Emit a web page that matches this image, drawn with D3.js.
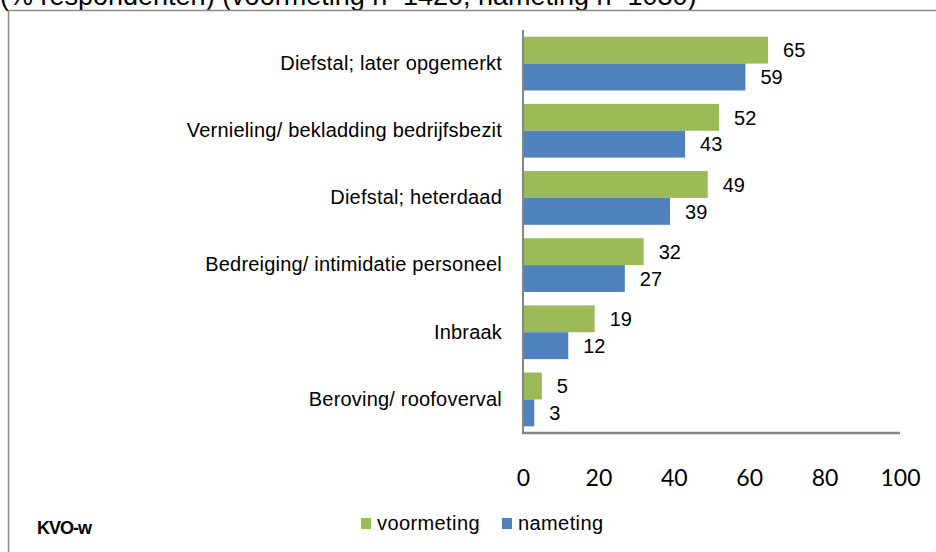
<!DOCTYPE html>
<html>
<head>
<meta charset="utf-8">
<script src="https://cdn.jsdelivr.net/npm/d3@7"></script>
<style>
  body { margin: 0; background: #fff; }
  svg { display: block; }
</style>
</head>
<body>
<div id="chart"></div>
<script>
"use strict";

// data
var categories = [
  "Diefstal; later opgemerkt",
  "Vernieling/ bekladding bedrijfsbezit",
  "Diefstal; heterdaad",
  "Bedreiging/ intimidatie  personeel",
  "Inbraak",
  "Beroving/ roofoverval"
];
var voormeting = [65, 52, 49, 32, 19, 5];
var nameting = [59, 43, 39, 27, 12, 3];
var seriesNames = ["voormeting", "nameting"];
var seriesColors = ["#9bbb59", "#4f81bd"];
var xTicks = [0, 20, 40, 60, 80, 100];

var W = 936, H = 552;
var svg = d3.select("#chart").append("svg")
  .attr("width", W)
  .attr("height", H);

// title (cut off at the top, as in the original)
svg.append("text")
  .attr("x", 0)
  .attr("y", 5)
  .style("font-family", "Liberation Sans, Arial, sans-serif")
  .style("font-size", "27px")
  .style("fill", "#000")
  .text("(% respondenten) (voormeting n=1420, nameting n=1030)");

// chart frame
svg.append("rect")
  .attr("x", 8.5)
  .attr("y", 10.5)
  .attr("width", W + 20)
  .attr("height", H + 20)
  .style("fill", "none")
  .style("stroke", "#8c8c8c")
  .style("stroke-width", 1.5);

var x = d3.scaleLinear().domain([0, 100]).range([523, 900]);
var y = d3.scaleBand()
  .domain(categories)
  .range([30, 433])
  .paddingInner(0.2)
  .paddingOuter(0.1);
var sub = d3.scaleBand()
  .domain(seriesNames)
  .range([0, y.bandwidth()]);

var rows = categories.map(function(c, i) {
  return {cat: c, values: [voormeting[i], nameting[i]]};
});

var groups = svg.selectAll(".grp")
  .data(rows)
  .enter().append("g")
  .attr("class", "grp")
  .attr("transform", function(d) { return "translate(0," + y(d.cat) + ")"; });

groups.selectAll("rect")
  .data(function(d) { return d.values.map(function(v, k) { return {k: k, v: v}; }); })
  .enter().append("rect")
  .attr("x", x(0))
  .attr("y", function(d) { return sub(seriesNames[d.k]); })
  .attr("width", function(d) { return x(d.v) - x(0); })
  .attr("height", sub.bandwidth())
  .style("fill", function(d) { return seriesColors[d.k]; });

// value labels
groups.selectAll(".val")
  .data(function(d) { return d.values.map(function(v, k) { return {k: k, v: v}; }); })
  .enter().append("text")
  .attr("class", "val")
  .attr("x", function(d) { return x(d.v) + 15; })
  .attr("y", function(d) { return sub(seriesNames[d.k]) + sub.bandwidth() / 2 + 2; })
  .attr("dominant-baseline", "middle")
  .style("font-family", "Liberation Sans, Arial, sans-serif")
  .style("font-size", "20px")
  .text(function(d) { return d.v; });

// category labels
svg.append("g")
  .attr("transform", "translate(" + x(0) + ",0)")
  .call(d3.axisLeft(y).tickSize(0).tickPadding(21))
  .call(function(g) { g.select(".domain").remove(); })
  .selectAll("text")
  .style("font-family", "Liberation Sans, Arial, sans-serif")
  .style("font-size", "20px")
  .style("letter-spacing", "0.2px")
  .style("fill", "#000");

// axis lines
svg.append("line")
  .attr("x1", x(0)).attr("x2", x(0))
  .attr("y1", 30).attr("y2", 434)
  .style("stroke", "#868686").style("stroke-width", 2);
svg.append("line")
  .attr("x1", x(0) - 1).attr("x2", x(100))
  .attr("y1", 433).attr("y2", 433)
  .style("stroke", "#868686").style("stroke-width", 2.5);

// x tick labels (no tick marks, placed below the axis)
svg.append("g")
  .attr("transform", "translate(0,467)")
  .call(d3.axisBottom(x).tickValues(xTicks).tickSize(0))
  .call(function(g) { g.select(".domain").remove(); })
  .selectAll("text")
  .style("font-family", "Lato, Carlito, Calibri, sans-serif")
  .style("font-size", "23px")
  .style("fill", "#000");

// legend
var legend = svg.append("g").attr("transform", "translate(361,518)");
var lx = [0, 141];
seriesNames.forEach(function(s, i) {
  legend.append("rect")
    .attr("x", lx[i]).attr("y", 0)
    .attr("width", 10).attr("height", 11)
    .style("fill", seriesColors[i]);
  legend.append("text")
    .attr("x", lx[i] + 16).attr("y", 12)
    .style("font-family", "Liberation Sans, Arial, sans-serif")
    .style("font-size", "20px")
    .style("letter-spacing", "0.4px")
    .text(s);
});

// footer tag
svg.append("text")
  .attr("x", 37)
  .attr("y", 534)
  .style("font-family", "Liberation Sans, Arial, sans-serif")
  .style("font-size", "18px")
  .style("font-weight", "bold")
  .style("letter-spacing", "-1px")
  .text("KVO-w");
</script>
</body>
</html>
